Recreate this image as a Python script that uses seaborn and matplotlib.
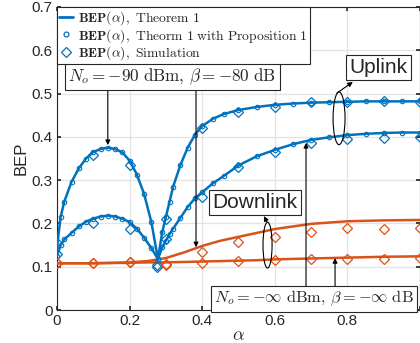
import matplotlib
matplotlib.use("Agg")
import matplotlib.pyplot as plt
from matplotlib.lines import Line2D
from matplotlib.patches import Ellipse
import seaborn as sns
import pandas as pd

# ---------------- data ----------------
alpha_th = [0.00, 0.01, 0.02, 0.04, 0.06, 0.08, 0.10, 0.12, 0.14, 0.16, 0.18, 0.20,
            0.22, 0.24, 0.26, 0.278, 0.29, 0.30, 0.31, 0.32, 0.34, 0.36, 0.38, 0.40,
            0.43, 0.46, 0.50, 0.55, 0.60, 0.65, 0.70, 0.75, 0.80, 0.85, 0.90, 0.95, 1.00]
up_high_th = [0.145, 0.215, 0.250, 0.296, 0.327, 0.350, 0.365, 0.372, 0.375, 0.372, 0.364, 0.345,
              0.313, 0.268, 0.203, 0.118, 0.180, 0.215, 0.250, 0.285, 0.335, 0.375, 0.405, 0.425,
              0.442, 0.453, 0.462, 0.469, 0.474, 0.477, 0.479, 0.480, 0.481, 0.482, 0.482, 0.482, 0.482]
up_low_th = [0.125, 0.150, 0.163, 0.178, 0.193, 0.204, 0.211, 0.216, 0.218, 0.216, 0.211, 0.203,
             0.188, 0.167, 0.143, 0.118, 0.145, 0.160, 0.175, 0.188, 0.213, 0.238, 0.258, 0.272,
             0.293, 0.310, 0.334, 0.355, 0.370, 0.383, 0.393, 0.399, 0.404, 0.407, 0.409, 0.410, 0.410]

alpha_dl = [0.0, 0.1, 0.2, 0.25, 0.3, 0.35, 0.4, 0.45, 0.5, 0.55, 0.6, 0.65, 0.7, 0.75, 0.8, 0.9, 1.0]
dl_high_th = [0.108, 0.108, 0.110, 0.113, 0.120, 0.133, 0.148, 0.160, 0.169, 0.178, 0.187, 0.193,
              0.199, 0.202, 0.205, 0.207, 0.208]
dl_low_th = [0.108, 0.108, 0.109, 0.110, 0.110, 0.111, 0.112, 0.113, 0.114, 0.115, 0.117, 0.118,
             0.119, 0.120, 0.121, 0.123, 0.124]

alpha_sim_up = [0.0, 0.1, 0.2, 0.275, 0.3, 0.4, 0.5, 0.6, 0.7, 0.8, 0.9, 1.0]
up_high_sim = [0.155, 0.358, 0.335, 0.105, 0.210, 0.420, 0.457, 0.470, 0.480, 0.480, 0.483, 0.480]
up_low_sim = [0.130, 0.200, 0.187, 0.100, 0.165, 0.260, 0.330, 0.365, 0.385, 0.395, 0.397, 0.400]

alpha_sim_dl = [0.0, 0.1, 0.2, 0.3, 0.4, 0.5, 0.6, 0.7, 0.8, 0.9, 1.0]
dl_high_sim = [0.108, 0.108, 0.110, 0.106, 0.135, 0.158, 0.169, 0.181, 0.189, 0.187, 0.190]
dl_low_sim = [0.108, 0.108, 0.110, 0.104, 0.108, 0.113, 0.115, 0.118, 0.117, 0.118, 0.120]

x_ticks = [0, 0.2, 0.4, 0.6, 0.8, 1.0]
x_ticklabels = ["0", "0.2", "0.4", "0.6", "0.8", ""]
y_ticks = [0, 0.1, 0.2, 0.3, 0.4, 0.5, 0.6, 0.7]
y_ticklabels = ["0", "0.1", "0.2", "0.3", "0.4", "0.5", "0.6", "0.7"]

legend_labels = [r"$\mathbf{BEP}(\alpha)\mathrm{,\ Theorem\ 1}$",
                 r"$\mathbf{BEP}(\alpha)\mathrm{,\ Theorm\ 1\ with\ Proposition\ 1}$",
                 r"$\mathbf{BEP}(\alpha)\mathrm{,\ Simulation}$"]

# ---------------- style ----------------
sns.set_theme(style="whitegrid")
plt.rcParams["font.family"] = ["Liberation Sans", "DejaVu Sans"]
plt.rcParams["mathtext.fontset"] = "cm"

BLUE = "#0072BD"
ORANGE = "#D95319"

fig = plt.figure(figsize=(4.2, 3.43), dpi=100)
ax = fig.add_axes([0.1357, 0.0962, 0.8643, 0.8834])

th = pd.DataFrame({"alpha": alpha_th, "hi": up_high_th, "lo": up_low_th})
dl = pd.DataFrame({"alpha": alpha_dl, "hi": dl_high_th, "lo": dl_low_th})
su = pd.DataFrame({"alpha": alpha_sim_up, "hi": up_high_sim, "lo": up_low_sim})
sd = pd.DataFrame({"alpha": alpha_sim_dl, "hi": dl_high_sim, "lo": dl_low_sim})

for col in ["hi", "lo"]:
    sns.lineplot(data=th, x="alpha", y=col, ax=ax, color=BLUE, lw=1.8, sort=False,
                 estimator=None, marker="o", markersize=3.2, markerfacecolor="none",
                 markeredgecolor=BLUE, markeredgewidth=0.8, zorder=3)
    sns.lineplot(data=dl, x="alpha", y=col, ax=ax, color=ORANGE, lw=1.8, sort=False,
                 estimator=None, zorder=3)
    sns.lineplot(data=su, x="alpha", y=col, ax=ax, color=BLUE, lw=0, sort=False,
                 estimator=None, marker="D", markersize=5, markerfacecolor="none",
                 markeredgecolor=BLUE, markeredgewidth=0.9, zorder=4)
    sns.lineplot(data=sd, x="alpha", y=col, ax=ax, color=ORANGE, lw=0, sort=False,
                 estimator=None, marker="D", markersize=5, markerfacecolor="none",
                 markeredgecolor=ORANGE, markeredgewidth=0.9, zorder=4)

ax.set_xlim(0, 1)
ax.set_ylim(0, 0.7)
ax.set_xticks(x_ticks)
ax.set_xticklabels(x_ticklabels)
ax.set_yticks(y_ticks)
ax.set_yticklabels(y_ticklabels)
ax.tick_params(direction="in", length=3, labelsize=11, colors="#262626",
               top=True, right=True, bottom=True, left=True, pad=3)
ax.grid(True, color="#e3e3e3", lw=0.9)
for s in ax.spines.values():
    s.set_color("#262626")
    s.set_linewidth(0.8)
ax.set_xlabel(r"$\alpha$", fontsize=13, labelpad=-1)
ax.set_ylabel("BEP", fontsize=12, labelpad=2)

# legend
handles = [Line2D([], [], color=BLUE, lw=2),
           Line2D([], [], color=BLUE, lw=0, marker="o", markersize=3.5, mfc="none", mew=0.9),
           Line2D([], [], color=BLUE, lw=0, marker="D", markersize=5, mfc="none", mew=0.9)]
leg = ax.legend(handles, legend_labels, loc="upper left", bbox_to_anchor=(0, 1),
                borderaxespad=0, fontsize=9.8, frameon=True, fancybox=False,
                handlelength=1.0, handletextpad=0.4, borderpad=0.15, labelspacing=0.0,
                framealpha=1)
leg.get_frame().set_edgecolor("#262626")
leg.get_frame().set_linewidth(0.8)
leg.set_zorder(7)

box = dict(boxstyle="square,pad=0.2", fc="white", ec="#262626", lw=0.8)
ax.text(0.318, 0.539, r"$N_o = -90\ \mathrm{dBm},\, \beta = -80\ \mathrm{dB}$",
        ha="center", va="center", fontsize=12.3, bbox=box, zorder=6)
ax.text(0.433, 0.026, r"$N_o = -\infty\ \mathrm{dBm},\, \beta = -\infty\ \mathrm{dB}$",
        ha="left", va="center", fontsize=11.8, bbox=box, zorder=6, clip_on=False)
box2 = dict(boxstyle="square,pad=0.15", fc="white", ec="#262626", lw=0.8)
ax.text(0.886, 0.561, "Uplink", ha="center", va="center", fontsize=15, bbox=box2, zorder=6)
ax.text(0.545, 0.249, "Downlink", ha="center", va="center", fontsize=15, bbox=box2, zorder=6)

arrow = dict(arrowstyle="-|>", color="black", lw=0.8, mutation_scale=7, shrinkA=0, shrinkB=0)
ax.annotate("", xy=(0.14, 0.381), xytext=(0.14, 0.513), arrowprops=arrow, zorder=5)
ax.annotate("", xy=(0.383, 0.145), xytext=(0.383, 0.513), arrowprops=arrow, zorder=5)
ax.annotate("", xy=(0.686, 0.386), xytext=(0.686, 0.051), arrowprops=arrow, zorder=5)
ax.annotate("", xy=(0.766, 0.12), xytext=(0.766, 0.051), arrowprops=arrow, zorder=5)
ax.annotate("", xy=(0.815, 0.527), xytext=(0.771, 0.501), arrowprops=arrow, zorder=5)
ax.annotate("", xy=(0.570, 0.217), xytext=(0.578, 0.204), arrowprops=arrow, zorder=5)

ax.add_patch(Ellipse((0.777, 0.443), 0.033, 0.122, fill=False, ec="black", lw=0.8, zorder=5))
ax.add_patch(Ellipse((0.580, 0.150), 0.025, 0.106, fill=False, ec="black", lw=0.8, zorder=5))

fig.savefig("out.png", dpi=100)
